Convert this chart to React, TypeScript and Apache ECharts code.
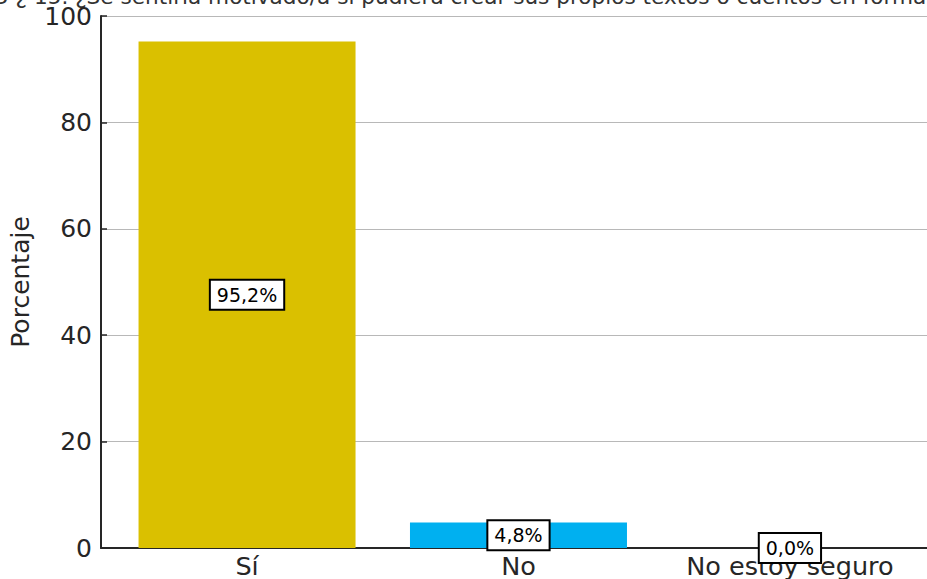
import React, { useEffect, useRef } from "react";
import * as echarts from "echarts";

const categories = ["Sí", "No", "No estoy seguro"];
const values = [95.2, 4.8, 0.0];
const barColors = ["#DAC000", "#00B0F0", "#7F7F7F"];
const yTicks = [0, 20, 40, 60, 80, 100];
const titleText =
  "5 ¿ 15. ¿Se sentiría motivado/a si pudiera crear sus propios textos o cuentos en forma";

export default function App() {
  const ref = useRef<HTMLDivElement>(null);
  useEffect(() => {
    const chart = echarts.init(ref.current!, null, { renderer: "svg" });
    const font = "DejaVu Sans";
    chart.setOption({
      animation: false,
      backgroundColor: "#ffffff",
      grid: { left: 101, top: 16, width: 826, height: 533, containLabel: false },
      graphic: [
        {
          type: "text",
          left: -5,
          top: -15,
          style: {
            text: titleText,
            font: `21.6px "${font}"`,
            fill: "#333333",
          },
        },
      ],
      xAxis: {
        type: "value",
        min: -0.538,
        max: 2.505,
        splitLine: { show: false },
        axisLine: { show: true, onZero: false, lineStyle: { color: "#262626", width: 2 } },
        axisTick: { show: false },
        axisLabel: {
          customValues: [0, 1, 2],
          formatter: (v: number) => categories[Math.round(v)] ?? "",
          fontFamily: font,
          fontSize: 25.5,
          color: "#262626",
          margin: 5,
          showMinLabel: true,
          showMaxLabel: true,
        },
      },
      yAxis: {
        type: "value",
        min: 0,
        max: 100,
        interval: 20,
        name: "Porcentaje",
        nameLocation: "middle",
        nameGap: 63,
        nameTextStyle: { fontFamily: font, fontSize: 25, color: "#262626" },
        axisLine: { show: true, onZero: false, lineStyle: { color: "#262626", width: 2 } },
        axisTick: { show: true, inside: true, length: 6, lineStyle: { color: "#262626", width: 1.5 } },
        splitLine: { show: true, lineStyle: { color: "#b8b8b8", width: 1.2 } },
        axisLabel: {
          fontFamily: font,
          fontSize: 25,
          color: "#262626",
          margin: 9,
          formatter: (v: number) => (yTicks.includes(v) ? String(v) : ""),
        },
      },
      series: [
        {
          type: "bar",
          barWidth: 217,
          data: values.map((v, i) => ({
            value: [i, v],
            itemStyle: { color: barColors[i] },
          })),
          label: {
            show: true,
            position: "inside",
            formatter: (p: any) => p.value[1].toFixed(1).replace(".", ",") + "%",
            fontFamily: font,
            fontSize: 19,
            color: "#000000",
            backgroundColor: "#ffffff",
            borderColor: "#000000",
            borderWidth: 2,
            padding: [5, 6, 4, 6],
          },
        },
      ],
    });
    return () => chart.dispose();
  }, []);
  return (
    <div
      ref={ref}
      style={{ position: "fixed", left: 0, top: 0, width: 927, height: 579 }}
    />
  );
}
